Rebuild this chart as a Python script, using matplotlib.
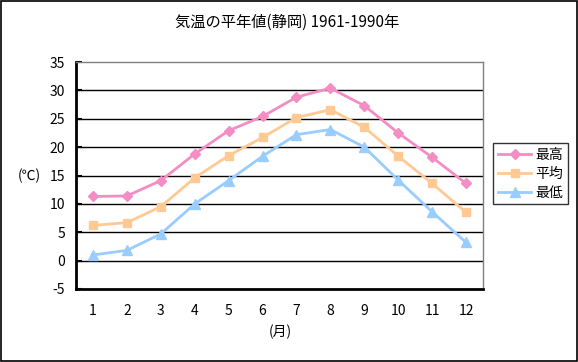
import matplotlib
matplotlib.use("Agg")
import matplotlib.pyplot as plt
from matplotlib.patches import Rectangle

plt.rcParams['font.family'] = ['Noto Sans CJK JP', 'DejaVu Sans']

months = [1, 2, 3, 4, 5, 6, 7, 8, 9, 10, 11, 12]
month_labels = ["1", "2", "3", "4", "5", "6", "7", "8", "9", "10", "11", "12"]
high = [11.3, 11.4, 14.1, 18.8, 22.9, 25.4, 28.8, 30.4, 27.3, 22.5, 18.2, 13.6]
mean = [6.2, 6.7, 9.5, 14.6, 18.5, 21.7, 25.2, 26.6, 23.5, 18.4, 13.6, 8.5]
low = [1.0, 1.8, 4.7, 10.0, 14.1, 18.4, 22.2, 23.1, 20.0, 14.2, 8.6, 3.2]
series_names = ["最高", "平均", "最低"]
y_ticks = [-5, 0, 5, 10, 15, 20, 25, 30, 35]

W, H = 578, 362
fig = plt.figure(figsize=(W / 100, H / 100), dpi=100)
fig.patch.set_facecolor("white")
fig.add_artist(Rectangle((0.001, 0.002), 0.997, 0.995, transform=fig.transFigure,
                         fill=False, edgecolor="black", linewidth=1.2))

ax = fig.add_axes([76 / W, 1 - 289 / H, (483 - 76) / W, (289 - 62) / H])
ax.set_xlim(0.5, 12.5)
ax.set_ylim(-5, 35)

for v in [0, 5, 10, 15, 20, 25, 30]:
    ax.axhline(v, color="black", linewidth=1.0, zorder=1)

styles = [("#F38DC4", "D", 5), ("#FFC994", "s", 6), ("#99CCFF", "^", 6.5)]
for data, name, (c, m, ms) in zip([high, mean, low], series_names, styles):
    ax.plot(months, data, color=c, marker=m, markersize=ms, linewidth=2,
            markeredgecolor=c, label=name, zorder=3)

ax.set_xticks(months)
ax.set_xticklabels(month_labels, fontsize=10)
ax.set_yticks(y_ticks)
ax.set_yticklabels([str(t) for t in y_ticks], fontsize=10)
ax.tick_params(axis="x", length=0, pad=11)
ax.tick_params(axis="y", direction="in", length=4, width=1.5, pad=8)

ax.spines["left"].set_linewidth(2)
ax.spines["bottom"].set_linewidth(2)
ax.spines["top"].set_color("#808080")
ax.spines["right"].set_color("#808080")
ax.spines["top"].set_linewidth(1)
ax.spines["right"].set_linewidth(1)

fig.text(287 / W, 1 - 22 / H, "気温の平年値(静岡) 1961-1990年", ha="center", va="center", fontsize=11)
fig.text(280 / W, 1 - 332 / H, "(月)", ha="center", va="center", fontsize=10)
fig.text(29 / W, 1 - 176 / H, "(℃)", ha="center", va="center", fontsize=10)

leg = fig.legend(loc="upper left", bbox_to_anchor=(493 / W, 1 - 143 / H), fontsize=10,
                 frameon=True, fancybox=False, edgecolor="black", handlelength=2.4,
                 borderpad=0.35, labelspacing=0.35, handletextpad=0.3, borderaxespad=0)
leg.get_frame().set_linewidth(1)

fig.savefig("out.png", dpi=100)
